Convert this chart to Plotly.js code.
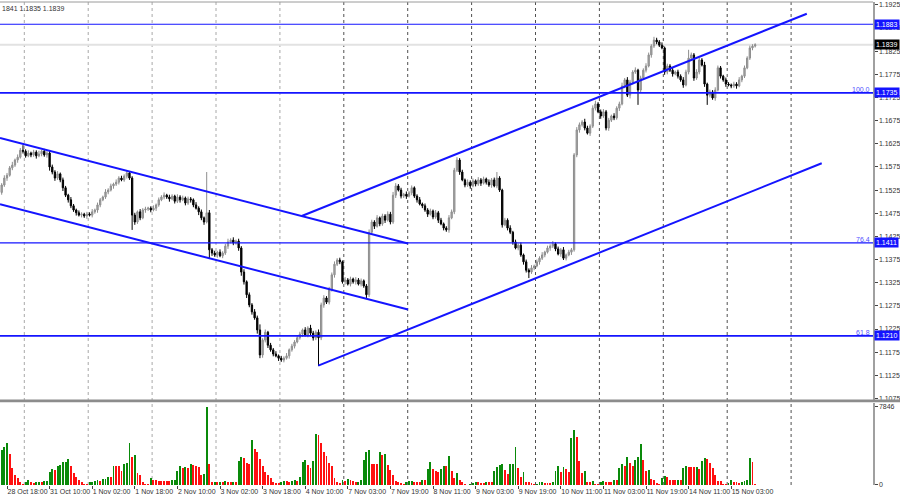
<!DOCTYPE html>
<html><head><meta charset="utf-8">
<script src="https://cdn.plot.ly/plotly-3.0.1.min.js"></script>
<style>html,body{margin:0;padding:0;background:#fff}#chart{width:900px;height:500px}</style>
</head><body><div id="chart"></div>
<script>
// ---- data (prices in 1/10000, bar index 0 = 28 Oct 18:00, H1 bars) ----
const firstBar = -2;
const firstOpen = 11520;
const closes = [
11536,11551,11557,11573,11579,11590,11596,11611,11609,11599,
11605,11601,11607,11599,11603,11609,11601,11605,11575,11564,
11551,11560,11547,11530,11514,11504,11491,11482,11476,11471,
11473,11469,11473,11471,11478,11482,11493,11504,11510,11521,
11525,11534,11538,11542,11551,11547,11555,11562,11551,11471,
11456,11478,11465,11482,11484,11486,11482,11486,11493,11504,
11510,11514,11510,11506,11512,11501,11510,11504,11508,11497,
11506,11504,11493,11486,11478,11465,11456,11476,11396,11389,
11385,11391,11383,11389,11404,11413,11417,11411,11415,11400,
11348,11327,11299,11277,11262,11249,11223,11169,11201,11218,
11190,11180,11171,11167,11162,11158,11162,11167,11180,11188,
11197,11206,11214,11223,11212,11227,11216,11206,11218,11206,
11277,11292,11283,11309,11342,11365,11374,11370,11327,11331,
11322,11333,11327,11331,11322,11329,11318,11299,11434,11456,
11447,11465,11452,11469,11460,11473,11456,11514,11534,11525,
11512,11516,11512,11519,11530,11512,11504,11495,11491,11482,
11473,11480,11467,11476,11460,11452,11443,11439,11465,11478,
11568,11590,11564,11547,11536,11542,11534,11545,11538,11547,
11540,11549,11542,11536,11547,11534,11551,11525,11450,11460,
11443,11434,11413,11400,11406,11385,11370,11352,11348,11357,
11361,11370,11378,11385,11391,11400,11404,11409,11398,11387,
11396,11378,11385,11391,11396,11601,11655,11666,11672,11659,
11648,11663,11702,11711,11694,11685,11694,11659,11676,11685,
11681,11702,11711,11750,11763,11730,11758,11780,11784,11741,
11767,11784,11793,11817,11836,11849,11845,11838,11832,11780,
11793,11784,11776,11780,11771,11763,11752,11780,11810,11817,
11767,11780,11806,11795,11754,11730,11737,11724,11741,11789,
11771,11763,11754,11752,11750,11754,11750,11763,11771,11789,
11810,11832,11836,11839];
// upper / lower shadow lengths in pips
const upWick = [
4,6,5,4,7,3,6,5,11,4, 6,3,5,4,7,3,5,4,6,5, 4,6,3,5,4,3,6,4,3,5, 4,3,5,4,6,3,5,4,3,6,
4,5,3,6,4,5,4,6,3,4, 5,3,6,4,5,3,4,6,3,5, 4,6,3,5,4,3,6,4,5,3, 5,4,3,6,4,5,3,88,6,4,
5,3,6,4,5,7,4,6,3,5, 4,6,3,5,4,6,5,12,4,6, 3,5,4,6,3,5,4,6,3,5, 4,6,5,3,6,4,7,5,4,6,
5,6,4,7,5,6,4,5,3,6, 4,5,3,6,4,5,3,4,6,5, 4,6,3,5,4,6,5,7,6,4, 5,3,6,4,5,3,4,6,3,5,
4,5,3,6,4,5,3,4,6,5, 5,6,4,5,3,6,4,5,3,6, 4,5,3,6,4,5,13,4,3,5, 4,6,3,5,4,6,3,5,4,6,
3,5,4,6,3,5,4,6,3,5, 4,6,3,5,4,4,6,5,4,7, 5,4,6,7,4,5,6,4,5,3, 6,4,5,7,4,6,5,4,6,3,
5,4,6,5,4,7,5,4,6,3, 5,4,6,3,5,4,6,5,18,5, 4,6,5,4,7,3,5,4,6,5, 4,3,5,4,3,5,4,6,3,5,
4,5,4,3];
const dnWick = [
5,4,6,3,5,4,6,3,5,4, 3,5,4,6,3,5,4,6,8,5, 6,4,5,7,4,6,5,4,6,3, 5,4,6,3,5,4,6,5,3,4,
5,3,6,4,5,3,4,5,4,32, 6,4,5,3,6,4,5,3,6,4, 3,5,4,6,3,5,4,6,3,5, 4,6,5,3,7,5,6,3,18,6,
4,6,3,5,4,6,3,5,4,6, 8,6,7,5,6,4,8,7,6,5, 6,4,5,3,6,4,5,3,6,4, 5,3,4,6,3,5,4,6,5,61,
5,6,4,5,3,6,4,5,4,6, 3,5,4,6,3,5,4,7,5,4, 6,3,5,4,6,3,5,4,6,3, 5,4,6,3,5,4,6,3,5,4,
6,3,5,4,6,3,5,4,6,3, 5,4,6,3,5,4,6,3,5,4, 6,3,5,4,6,3,5,4,6,3, 5,4,6,3,5,4,6,5,13,4,
5,3,6,4,5,3,6,4,5,3, 6,4,5,3,6,4,5,6,4,5, 3,6,4,5,3,6,4,5,6,4, 5,4,6,3,5,4,7,5,4,32,
6,4,5,3,6,4,5,4,3,6, 5,4,6,3,5,4,6,3,5,4, 6,4,5,3,6,21,5,4,6,3, 5,4,6,3,5,4,6,3,5,4,
3,4,5,3];
const volumes = [
3518,3853,4255,3082,1675,1005,670,268,134,268,
503,335,235,268,302,268,402,420,1273,1608,
1508,1943,2010,2278,2290,2613,1943,1173,838,503,
268,134,67,268,270,402,503,402,603,610,
838,804,1943,1876,1870,1407,2077,2178,4255,2814,
2982,1173,1005,268,100,67,737,536,469,402,
400,398,396,394,469,503,1407,1910,1742,1843,
1742,2077,2010,1943,1843,1005,1106,7846,2077,268,
335,268,335,268,402,268,260,335,268,2412,
2848,2680,2178,2111,4523,3618,3350,2613,1943,1273,
1005,670,335,168,160,268,402,400,335,402,
503,402,838,2278,2513,2010,1742,2412,5092,5025,
4188,3283,2948,2178,1943,670,268,168,469,402,
603,469,402,268,335,503,2513,3283,3518,2077,
2070,2065,3350,3015,3082,2010,1508,1005,402,268,
168,67,268,402,436,268,265,262,503,500,
1608,2278,1608,1407,1340,1608,1943,1940,2915,1407,
737,1240,503,268,100,30,67,168,268,265,
201,198,268,265,262,1407,1843,2010,2077,1508,
1106,2077,2144,3853,1675,838,1273,268,265,168,
67,134,268,270,168,165,160,268,1407,1910,
1273,1809,1608,1273,4690,5528,4858,2446,1240,1407,
268,265,402,134,67,268,402,268,265,262,
469,465,1742,2077,1943,2814,2178,1943,2479,2814,
4087,2479,1407,1508,603,536,201,134,737,938,
838,469,465,460,536,530,1675,1910,1809,1805,
1800,1843,1608,2446,2680,2613,2178,1675,1005,402,
400,67,65,201,503,268,265,201,268,402,
469,2680,2345,100];
const timeLabels = ["28 Oct 18:00","31 Oct 10:00","1 Nov 02:00","1 Nov 18:00","2 Nov 10:00","3 Nov 02:00",
  "3 Nov 18:00","4 Nov 10:00","7 Nov 03:00","7 Nov 19:00","8 Nov 11:00","9 Nov 03:00","9 Nov 19:00",
  "10 Nov 11:00","11 Nov 03:00","11 Nov 19:00","14 Nov 11:00","15 Nov 03:00"];
const labelBars = [0,16,32,48,64,80,96,112,128,144,160,176,192,208,224,240,256,272];
const dayBars = [6.5,30.5,54.5,78.5,102.5,126.5,150.5,174.5,198.5,222.5,246.5,270.5,294.5];
const priceTicks = [1.1925,1.1875,1.1825,1.1775,1.1725,1.1675,1.1625,1.1575,1.1525,1.1475,1.1425,1.1375,1.1325,1.1275,1.1225,1.1175,1.1125,1.1075];
const levelPrices = [1.1883, 1.1735, 1.1411, 1.1210];
const levelFib = ["", "100.0", "76.4", "61.8"];
const lastPrice = 1.1839;
const volMax = 7846;
const topText = "1841 1.1835 1.1839";
// trend lines: [startBar, startPrice, endBar, endPrice]
const trendDownUpper = [-2.63, 1.16375, 150.6, 1.14097];
const trendDownLower = [-2.63, 1.14943, 150.6, 1.12672];
const trendUpUpper   = [110.7, 1.14691, 300.4, 1.19059];
const trendUpLower   = [116.9, 1.11458, 306.0, 1.15829];

// ---- build ----
const x = closes.map((_, i) => firstBar + i);
const open = closes.map((c, i) => (i === 0 ? firstOpen : closes[i - 1]) / 10000);
const close = closes.map(c => c / 10000);
const high = closes.map((c, i) => (Math.max(open[i] * 10000, c) + upWick[i]) / 10000);
const low = closes.map((c, i) => (Math.min(open[i] * 10000, c) - dnWick[i]) / 10000);
const volColors = volumes.map((v, i) => (i > 0 && v > volumes[i - 1]) || i === 0 ? '#0a8a0a' : '#ff1010');

const BLUE = '#1414ff';
const shapes = [];
dayBars.forEach((b, k) => shapes.push({type:'line', xref:'x', yref:'paper', x0:b, x1:b, y0:0, y1:1,
  line:{color: k < 5 ? '#a8a8a8' : '#505050', width:1, dash:'dot'}, layer:'below'}));
shapes.push({type:'line', xref:'paper', yref:'y', x0:0, x1:1, y0:lastPrice, y1:lastPrice,
  line:{color:'#e2e2e2', width:2}, layer:'below'});
levelPrices.forEach((p, i) => shapes.push({type:'line', xref:'paper', yref:'y', x0:0, x1:1, y0:p, y1:p,
  line:{color:BLUE, width:(i === 1 || i === 3) ? 1.8 : 1.1}}));
[trendDownUpper, trendDownLower, trendUpUpper, trendUpLower].forEach(t => shapes.push({type:'line', xref:'x', yref:'y',
  x0:t[0], y0:t[1], x1:t[2], y1:t[3], line:{color:BLUE, width:2}}));
// panel separator and top frame
shapes.push({type:'rect', xref:'paper', yref:'paper', x0:0, x1:1.035, y0:0.1715, y1:0.1770, fillcolor:'#8c8c8c', line:{width:0}});
shapes.push({type:'line', xref:'paper', yref:'paper', x0:0, x1:1, y0:1, y1:1, line:{color:'#9a9a9a', width:1}});

const annotations = [];
annotations.push({xref:'paper', yref:'paper', x:0, y:1, xanchor:'left', yanchor:'top', yshift:-1, text:topText,
  showarrow:false, font:{family:'Liberation Sans', size:7, color:'#333'}});
levelPrices.forEach((p, i) => {
  annotations.push({xref:'paper', yref:'y', x:1, y:p, xanchor:'left', yanchor:'middle', xshift:1,
    text:p.toFixed(4), showarrow:false, bgcolor:BLUE, borderpad:1,
    font:{family:'Liberation Sans', size:7, color:'#fff'}});
  if (levelFib[i]) annotations.push({xref:'paper', yref:'y', x:1, y:p, xanchor:'right', yanchor:'bottom', xshift:-1, yshift:-2,
    text:levelFib[i], showarrow:false, font:{family:'Liberation Sans', size:7, color:'#5050ff'}});
});
annotations.push({xref:'paper', yref:'y', x:1, y:lastPrice, xanchor:'left', yanchor:'middle', xshift:1,
  text:lastPrice.toFixed(4), showarrow:false, bgcolor:'#000', borderpad:1,
  font:{family:'Liberation Sans', size:7, color:'#fff'}});

const tickFont = {family:'Liberation Sans', size:7, color:'#333'};
const data = [
  {type:'candlestick', x:x, open:open, high:high, low:low, close:close, xaxis:'x', yaxis:'y',
   increasing:{line:{color:'#8e8e8e', width:1}, fillcolor:'#a9a9a9'},
   decreasing:{line:{color:'#000', width:1}, fillcolor:'#000'},
   whiskerwidth:0, hoverinfo:'none', showlegend:false},
  {type:'bar', x:x, y:volumes, xaxis:'x', yaxis:'y2', width:0.72,
   marker:{color:volColors, line:{width:0}}, hoverinfo:'none', showlegend:false}
];
const layout = {
  width:900, height:500, margin:{l:0, r:27, t:2, b:15},
  paper_bgcolor:'#fff', plot_bgcolor:'#fff', showlegend:false, bargap:0,
  xaxis:{range:[-2.63, 325.26], anchor:'y2', tickvals:labelBars, ticktext:timeLabels, tickangle:0,
    ticklabelposition:'outside right', ticks:'outside', ticklen:3, tickcolor:'#444',
    tickfont:tickFont, showgrid:false, zeroline:false, showline:false, rangeslider:{visible:false}, fixedrange:true},
  yaxis:{domain:[0.176, 1], range:[1.10717, 1.19312], side:'right', anchor:'x', tickvals:priceTicks,
    tickformat:'.4f', ticks:'outside', ticklen:3, tickcolor:'#444', tickfont:tickFont,
    showgrid:false, zeroline:false, showline:true, linecolor:'#a0a0a0', linewidth:1.5, fixedrange:true},
  yaxis2:{domain:[0, 0.1698], range:[0, volMax * 82 / 78], side:'right', anchor:'x', tickvals:[0, volMax],
    ticktext:['0', String(volMax)], ticks:'outside', ticklen:3, tickcolor:'#444', tickfont:tickFont,
    showgrid:false, zeroline:false, showline:true, linecolor:'#a0a0a0', linewidth:1.5, fixedrange:true},
  shapes:shapes, annotations:annotations
};
Plotly.newPlot('chart', data, layout, {displayModeBar:false, staticPlot:true});
</script></body></html>
